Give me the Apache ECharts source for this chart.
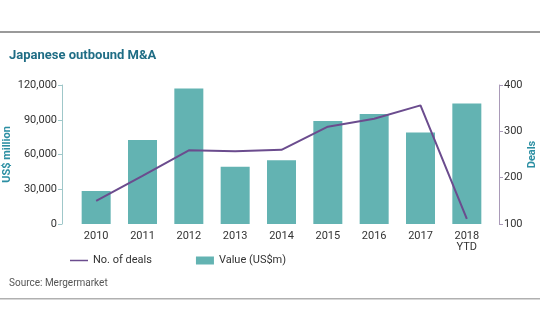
<!DOCTYPE html>
<html><head><meta charset="utf-8">
<script src="https://cdn.jsdelivr.net/npm/echarts@6/dist/echarts.min.js"></script>
<style>html,body{margin:0;padding:0;background:#fff}#c{width:540px;height:334px}</style>
</head><body><div id="c"></div>
<script>
const categories = ['2010','2011','2012','2013','2014','2015','2016','2017','2018\nYTD'];
const valueUSDm = [28500, 72500, 117000, 49500, 55000, 89000, 95000, 79000, 104000];
const numDeals = [150, 204, 259, 257, 260, 310, 327, 356, 111];
const leftTicks = [0, 30000, 60000, 90000, 120000];
const rightTicks = [100, 200, 300, 400];

const font = 'Roboto';
const chart = echarts.init(document.getElementById('c'), null, {renderer:'canvas'});
chart.setOption({
  backgroundColor:'#fff',
  animation:false,
  title:[
    {text:'Japanese outbound M&A', left:4, top:44, textStyle:{color:'#1f6d85', fontSize:13, fontWeight:'bold', fontFamily:font}},
    {text:'Source: Mergermarket', left:4, top:273, textStyle:{color:'#555', fontSize:10, fontWeight:'normal', fontFamily:font}}
  ],
  graphic:[
    {type:'rect', shape:{x:0,y:31,width:540,height:2}, style:{fill:'#9a9a9a'}},
    {type:'rect', shape:{x:0,y:298,width:540,height:1.5}, style:{fill:'#b0b0b0'}}
  ],
  legend:{
    left:65, top:250, itemGap:44, itemWidth:18, itemHeight:8,
    textStyle:{color:'#333', fontSize:11, fontFamily:font},
    data:[{name:'No. of deals', icon:'path://M0,7L18,7L18,8.5L0,8.5Z', itemStyle:{color:'#6b4c8e'}},
          {name:'Value (US$m)', icon:'rect'}]
  },
  grid:{left:73, right:50, top:85, bottom:110, containLabel:false, outerBoundsMode:'none'},
  xAxis:{
    type:'category', data:categories,
    axisLine:{show:false}, axisTick:{show:false},
    axisLabel:{color:'#333', fontSize:11, fontFamily:font, lineHeight:11, margin:7}
  },
  yAxis:[
    {type:'value', min:0, max:120000, interval:30000, offset:11,
     name:'US$ million', nameLocation:'middle', nameGap:49, nameRotate:90, nameMoveOverlap:false,
     nameTextStyle:{color:'#2c8fa3', fontSize:11, fontWeight:'bold', fontFamily:font},
     axisLine:{show:true, lineStyle:{color:'#9fc7c9', width:1}},
     axisTick:{show:true, length:4, lineStyle:{color:'#9fc7c9'}},
     splitLine:{show:false},
     axisLabel:{color:'#333', fontSize:11, fontFamily:font, margin:5,
       formatter:v=>v.toLocaleString('en-US')}},
    {type:'value', min:100, max:400, interval:100, offset:9,
     name:'Deals', nameLocation:'middle', nameGap:28, nameRotate:90, nameMoveOverlap:false,
     nameTextStyle:{color:'#2c8fa3', fontSize:11, fontWeight:'bold', fontFamily:font},
     axisLine:{show:true, lineStyle:{color:'#a99ab8', width:1}},
     axisTick:{show:true, length:4, lineStyle:{color:'#a99ab8'}},
     splitLine:{show:false},
     axisLabel:{color:'#333', fontSize:11, fontFamily:font, margin:5}}
  ],
  series:[
    {name:'Value (US$m)', type:'bar', data:valueUSDm, yAxisIndex:0, barWidth:29,
     itemStyle:{color:'#63b3b2'}},
    {name:'No. of deals', type:'line', data:numDeals, yAxisIndex:1, symbol:'none',
     lineStyle:{color:'#6b4c8e', width:2}, itemStyle:{color:'#6b4c8e'}, z:5}
  ]
});
</script></body></html>
